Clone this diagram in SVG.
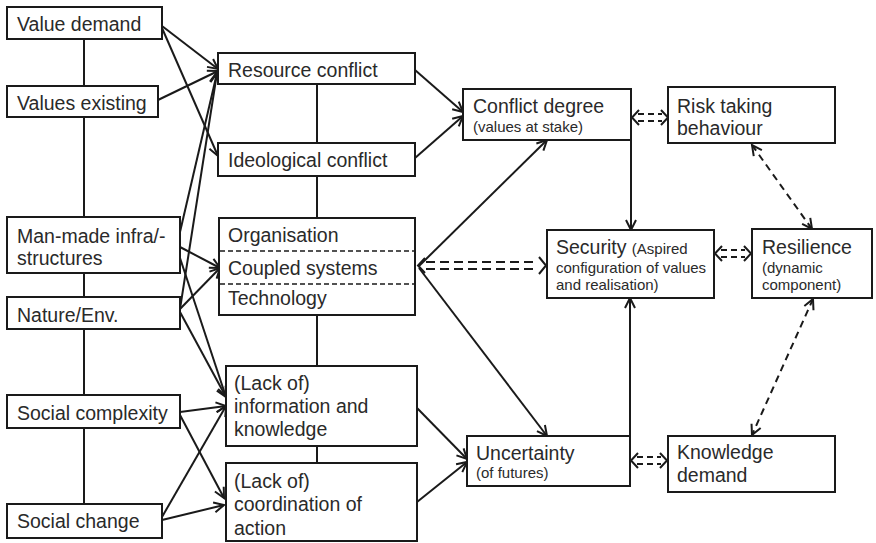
<svg xmlns="http://www.w3.org/2000/svg" width="876" height="543" viewBox="0 0 876 543">
  <defs>
    <marker id="arrow" viewBox="-12 -7 14 14" refX="0" refY="0" markerWidth="14" markerHeight="14" markerUnits="userSpaceOnUse" orient="auto-start-reverse">
      <path d="M-10,-5 L0,0 L-10,5" fill="none" stroke="#1a1a1a" stroke-width="2"/>
    </marker>
  </defs>
  <style>
    .box { fill: #ffffff; stroke: #1a1a1a; stroke-width: 2; }
    .t { font-family: "Liberation Sans", Arial, Helvetica, sans-serif; font-size: 19.5px; fill: #2a2a2a; }
    .s { font-family: "Liberation Sans", Arial, Helvetica, sans-serif; font-size: 15px; fill: #2a2a2a; }
    .link { fill: none; stroke: #1a1a1a; stroke-width: 2; }
    .arr { fill: none; stroke: #1a1a1a; stroke-width: 2; marker-end: url(#arrow); }
    .dash { fill: none; stroke: #1a1a1a; stroke-width: 2; stroke-dasharray: 7 5; }
    .sdash { fill: none; stroke: #1a1a1a; stroke-width: 2; stroke-dasharray: 6 4; }
    .ldash { fill: none; stroke: #1a1a1a; stroke-width: 2; stroke-dasharray: 9 5; }
    .inner { fill: none; stroke: #1a1a1a; stroke-width: 1.6; stroke-dasharray: 5 3; }
  </style>

  <rect width="876" height="543" fill="#ffffff"/>

  <!-- connectors -->
  <g id="connectors">
    <!-- left column backbone -->
    <path class="link" d="M84,39 V86 M84,117 V217 M84,273 V297 M84,329 V395 M84,428 V504"/>
    <!-- middle column backbone -->
    <path class="link" d="M317,84 V143 M317,176 V218 M317,315 V366 M317,446 V463"/>

    <!-- drivers into conflicts -->
    <path class="arr" d="M162,26 L218,69"/>
    <path class="arr" d="M162,28 L218,156"/>
    <path class="arr" d="M158,100 L218,71"/>
    <path class="arr" d="M180,232 L217,73"/>
    <path class="arr" d="M180,309 L217,73"/>

    <!-- drivers into coupled systems -->
    <path class="arr" d="M180,247 L220,268"/>
    <path class="arr" d="M180,309 L220,268"/>

    <!-- drivers into lack of information -->
    <path class="arr" d="M180,258 L226,397"/>
    <path class="arr" d="M180,312 L226,397"/>
    <path class="arr" d="M180,412 L226,406"/>
    <path class="arr" d="M162,517 L226,406"/>

    <!-- drivers into lack of coordination -->
    <path class="arr" d="M180,415 L224,498"/>
    <path class="arr" d="M162,520 L224,505"/>

    <!-- middle column into outcomes -->
    <path class="arr" d="M415,70 L463,112"/>
    <path class="arr" d="M415,158 L463,116"/>
    <path class="arr" d="M419,266 L547,140"/>
    <path class="arr" d="M419,268 L547,436"/>
    <path class="arr" d="M417,408 L467,459"/>
    <path class="arr" d="M417,502 L467,462"/>

    <!-- into security -->
    <path class="arr" d="M631,140 V230"/>
    <path class="arr" d="M630,436 V298"/>

    <!-- coupled systems <-> security (double dashed) -->
    <path class="ldash" d="M426,262 H538 M426,269 H538"/>
    <path class="link" d="M425,258 L418,265.5 L425,273"/>
    <path class="link" d="M539,257 L546,265.5 L539,274"/>

    <!-- conflict degree <-> risk taking -->
    <path class="sdash" d="M638,114 H662 M638,121 H662"/>
    <path class="link" d="M639,110 L632,117.5 L639,125"/>
    <path class="link" d="M661,110 L668,117.5 L661,125"/>

    <!-- security <-> resilience -->
    <path class="sdash" d="M721,250 H745 M721,257 H745"/>
    <path class="link" d="M722,246 L715,253.5 L722,261"/>
    <path class="link" d="M744,246 L751,253.5 L744,261"/>

    <!-- uncertainty <-> knowledge demand -->
    <path class="sdash" d="M637,457 H661 M637,464 H661"/>
    <path class="link" d="M638,453 L631,460.5 L638,468"/>
    <path class="link" d="M660,453 L667,460.5 L660,468"/>

    <!-- resilience links -->
    <path class="dash" d="M752,145 L812,229" marker-start="url(#arrow)" marker-end="url(#arrow)"/>
    <path class="dash" d="M813,299 L752,435" marker-start="url(#arrow)" marker-end="url(#arrow)"/>
  </g>

  <!-- left column -->
  <g id="value-demand">
    <rect class="box" x="7" y="7" width="155" height="32"/>
    <text class="t" x="17" y="31">Value demand</text>
  </g>
  <g id="values-existing">
    <rect class="box" x="7" y="86" width="151" height="31"/>
    <text class="t" x="17" y="110">Values existing</text>
  </g>
  <g id="man-made">
    <rect class="box" x="7" y="217" width="173" height="56"/>
    <text class="t" x="17" y="243">Man-made infra/-</text>
    <text class="t" x="17" y="265">structures</text>
  </g>
  <g id="nature-env">
    <rect class="box" x="7" y="297" width="173" height="32"/>
    <text class="t" x="17" y="322">Nature/Env.</text>
  </g>
  <g id="social-complexity">
    <rect class="box" x="7" y="395" width="173" height="33"/>
    <text class="t" x="17" y="420">Social complexity</text>
  </g>
  <g id="social-change">
    <rect class="box" x="7" y="504" width="155" height="34"/>
    <text class="t" x="17" y="528">Social change</text>
  </g>

  <!-- middle column -->
  <g id="resource-conflict">
    <rect class="box" x="218" y="53" width="197" height="31"/>
    <text class="t" x="228" y="77">Resource conflict</text>
  </g>
  <g id="ideological-conflict">
    <rect class="box" x="218" y="143" width="197" height="33"/>
    <text class="t" x="228" y="167">Ideological conflict</text>
  </g>
  <g id="coupled-systems">
    <rect class="box" x="219" y="218" width="196" height="97"/>
    <line class="inner" x1="220" y1="251" x2="414" y2="251"/>
    <line class="inner" x1="220" y1="284" x2="414" y2="284"/>
    <text class="t" x="228" y="242">Organisation</text>
    <text class="t" x="228" y="275">Coupled systems</text>
    <text class="t" x="228" y="305">Technology</text>
  </g>
  <g id="lack-information">
    <rect class="box" x="226" y="366" width="191" height="80"/>
    <text class="t" x="234" y="390">(Lack of)</text>
    <text class="t" x="234" y="413">information and</text>
    <text class="t" x="234" y="436">knowledge</text>
  </g>
  <g id="lack-coordination">
    <rect class="box" x="226" y="463" width="191" height="78"/>
    <text class="t" x="234" y="488">(Lack of)</text>
    <text class="t" x="234" y="511">coordination of</text>
    <text class="t" x="234" y="535">action</text>
  </g>

  <!-- outcomes -->
  <g id="conflict-degree">
    <rect class="box" x="463" y="89" width="168" height="51"/>
    <text class="t" x="473" y="113">Conflict degree</text>
    <text class="s" x="473" y="132">(values at stake)</text>
  </g>
  <g id="security">
    <rect class="box" x="547" y="230" width="167" height="68"/>
    <text class="t" x="556" y="254">Security <tspan class="s" font-size="15px">(Aspired</tspan></text>
    <text class="s" x="556" y="273">configuration of values</text>
    <text class="s" x="556" y="290">and realisation)</text>
  </g>
  <g id="uncertainty">
    <rect class="box" x="467" y="436" width="163" height="50"/>
    <text class="t" x="476" y="460">Uncertainty</text>
    <text class="s" x="476" y="478">(of futures)</text>
  </g>
  <g id="risk-taking">
    <rect class="box" x="668" y="87" width="167" height="56"/>
    <text class="t" x="677" y="113">Risk taking</text>
    <text class="t" x="677" y="135">behaviour</text>
  </g>
  <g id="resilience">
    <rect class="box" x="752" y="229" width="120" height="69"/>
    <text class="t" x="762" y="254">Resilience</text>
    <text class="s" x="762" y="273">(dynamic</text>
    <text class="s" x="762" y="290">component)</text>
  </g>
  <g id="knowledge-demand">
    <rect class="box" x="668" y="436" width="167" height="56"/>
    <text class="t" x="677" y="459">Knowledge</text>
    <text class="t" x="677" y="482">demand</text>
  </g>
</svg>
